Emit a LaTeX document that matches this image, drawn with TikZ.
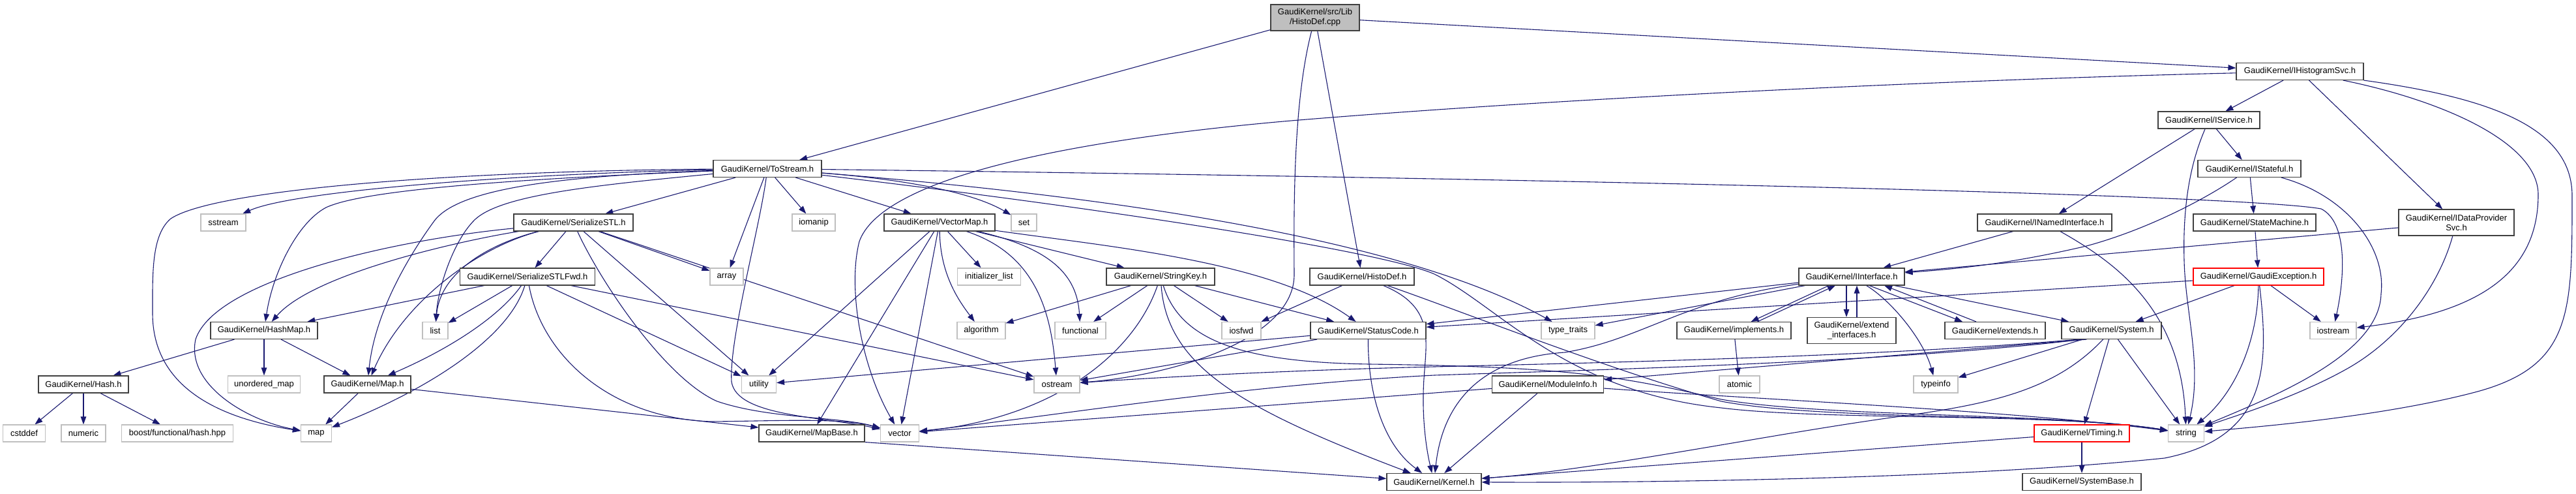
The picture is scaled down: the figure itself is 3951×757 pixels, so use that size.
\documentclass[tikz,border=0pt]{standalone}
\usepackage{fontspec}
\setmainfont{Liberation Sans}
\usetikzlibrary{arrows.meta}
\definecolor{edgeblue}{HTML}{191970}
\definecolor{sysgray}{HTML}{BFBFBF}
\definecolor{rootgray}{HTML}{BFBFBF}
\definecolor{borderdark}{HTML}{404040}
\pgfdeclarelayer{edges}
\pgfsetlayers{edges,main}
\newcommand\gnode[6]{\node[#1, minimum width=#5pt] (#2) at (#3,#4) {#6};}
\begin{document}
\begin{tikzpicture}[x=1pt,y=-1pt,
  nd/.style={draw=borderdark, line width=1.1pt, fill=white, inner sep=0pt,
     font=\fontsize{13}{15}\selectfont, minimum height=26pt},
  sys/.style={nd, draw=sysgray},
  trunc/.style={nd, draw=red},
  dep/.style={draw=edgeblue, line width=1.1pt, -{Triangle[length=12pt,width=8.5pt]}}]
\useasboundingbox (0,0) rectangle (3951,757);
% ---------------- nodes ----------------
\gnode{nd,fill=rootgray,minimum height=40pt,align=center}{root}{2017}{27}{136}{GaudiKernel/src/Lib\\/HistoDef.cpp}
\gnode{nd}{ts}{1177}{258.5}{166}{GaudiKernel/ToStream.h}
\gnode{sys}{sstream}{342.5}{341}{69}{sstream}
\gnode{nd}{ss}{879.5}{341}{183}{GaudiKernel/SerializeSTL.h}
\gnode{sys}{iomanip}{1248}{341}{66}{iomanip}
\gnode{nd}{vm}{1441}{341}{170}{GaudiKernel/VectorMap.h}
\gnode{sys}{set}{1570.5}{341}{39}{set}
\gnode{nd}{ni}{3136}{341}{206}{GaudiKernel/INamedInterface.h}
\gnode{nd}{ih}{3527.5}{109.5}{195}{GaudiKernel/IHistogramSvc.h}
\gnode{nd}{is}{3388}{184}{156}{GaudiKernel/IService.h}
\gnode{nd}{ist}{3450}{258.5}{158}{GaudiKernel/IStateful.h}
\gnode{nd}{sm}{3458}{341}{188}{GaudiKernel/StateMachine.h}
\gnode{nd,minimum height=40pt,align=center}{dp}{3767.5}{341}{177}{GaudiKernel/IDataProvider\\Svc.h}
\gnode{nd}{hm}{405}{506.5}{164}{GaudiKernel/HashMap.h}
\gnode{nd}{hash}{128}{589}{138}{GaudiKernel/Hash.h}
\gnode{sys}{um}{405}{589}{111}{unordered\_map}
\gnode{nd}{mp}{563.5}{589}{133}{GaudiKernel/Map.h}
\gnode{sys}{cstddef}{37}{664}{65}{cstddef}
\gnode{sys}{numeric}{128}{664}{68}{numeric}
\gnode{sys}{boost}{272}{664}{171}{boost/functional/hash.hpp}
\gnode{sys}{map}{485}{664}{47}{map}
\gnode{sys}{list}{667.5}{506.5}{39}{list}
\gnode{nd}{sf}{809}{424}{207}{GaudiKernel/SerializeSTLFwd.h}
\gnode{sys}{array}{1114.5}{424}{51}{array}
\gnode{sys}{utility}{1164}{589}{53}{utility}
\gnode{nd}{mb}{1245}{664}{162}{GaudiKernel/MapBase.h}
\gnode{sys}{il}{1517}{424}{97}{initializer\_list}
\gnode{nd}{sk}{1780}{424}{166}{GaudiKernel/StringKey.h}
\gnode{sys}{algorithm}{1505}{506.5}{74}{algorithm}
\gnode{sys}{functional}{1657}{506.5}{78}{functional}
\gnode{sys}{iosfwd}{1904}{506.5}{60}{iosfwd}
\gnode{sys}{ostream}{1621}{589}{70}{ostream}
\gnode{sys}{vector}{1380}{664}{59}{vector}
\gnode{nd}{hd}{2089}{424}{160}{GaudiKernel/HistoDef.h}
\gnode{nd}{sc}{2098.5}{506.5}{177}{GaudiKernel/StatusCode.h}
\gnode{sys}{tt}{2405}{506.5}{82}{type\_traits}
\gnode{nd}{mi}{2374}{589}{171}{GaudiKernel/ModuleInfo.h}
\gnode{nd}{kn}{2199.5}{738.5}{145}{GaudiKernel/Kernel.h}
\gnode{nd}{ii}{2840}{424}{162}{GaudiKernel/IInterface.h}
\gnode{nd}{im}{2659.5}{506.5}{175}{GaudiKernel/implements.h}
\gnode{nd,minimum height=40pt,align=center}{ei}{2840}{506.5}{136}{GaudiKernel/extend\\\_interfaces.h}
\gnode{nd}{ex}{3060}{506.5}{154}{GaudiKernel/extends.h}
\gnode{nd}{sy}{3238.5}{506.5}{153}{GaudiKernel/System.h}
\gnode{sys}{atomic}{2668}{589}{62}{atomic}
\gnode{sys}{typeinfo}{2969}{589}{68}{typeinfo}
\gnode{trunc}{ti}{3193}{664}{146}{GaudiKernel/Timing.h}
\gnode{nd}{sb}{3193}{738.5}{182}{GaudiKernel/SystemBase.h}
\gnode{trunc}{ge}{3464}{424}{200}{GaudiKernel/GaudiException.h}
\gnode{sys}{iostream}{3578.5}{506.5}{71}{iostream}
\gnode{sys}{string}{3353}{664}{55}{string}
% ---------------- edges ----------------
\begin{pgfonlayer}{edges}
% root
\draw[dep] (root) -- (ts);
\draw[dep] (root) -- (ih);
\draw[dep] (root) -- (hd);
\draw[dep] (root) .. controls (1985,150) and (1984,300) .. (1985,420) .. controls (1986,520) and (1800,575) .. (ostream);
% ToStream
\draw[dep] (ts) .. controls (800,266) and (450,292) .. (sstream);
\draw[dep] (ts) .. controls (700,262) and (330,290) .. (262,335) .. controls (232,360) and (234,420) .. (234,480) .. controls (234,590) and (330,640) .. (map);
\draw[dep] (ts) .. controls (800,274) and (560,290) .. (500,318) .. controls (455,342) and (418,420) .. (hm);
\draw[dep] (ts) .. controls (850,270) and (700,290) .. (665,340) .. controls (625,395) and (575,480) .. (mp);
\draw[dep] (ts) .. controls (900,285) and (760,300) .. (725,340) .. controls (695,372) and (672,440) .. (list);
\draw[dep] (ts) -- (ss);
\draw[dep] (ts) .. controls (1165,350) and (1118,520) .. (1122,585) .. controls (1130,638) and (1260,638) .. (vector);
\draw[dep] (ts) -- (iomanip);
\draw[dep] (ts) -- (array);
\draw[dep] (ts) -- (vm);
\draw[dep] (ts) .. controls (1350,272) and (1480,288) .. (set);
\draw[dep] (ts) .. controls (1700,300) and (2150,365) .. (tt);
\draw[dep] (ts) .. controls (1700,320) and (2120,385) .. (2200,420) .. controls (2300,470) and (2400,600) .. (2640,625) .. controls (2800,645) and (3150,632) .. (string);
\draw[dep] (ts) .. controls (2500,275) and (3450,300) .. (3560,320) .. controls (3600,340) and (3597,420) .. (iostream);
% SerializeSTL
\draw[dep] (ss) -- (sf);
\draw[dep] (ss) -- (array);
\draw[dep] (ss) -- (utility);
\draw[dep] (ss) -- (ostream);
\draw[dep] (ss) .. controls (745,375) and (675,420) .. (list);
\draw[dep] (ss) .. controls (700,370) and (480,420) .. (hm);
\draw[dep] (ss) .. controls (600,368) and (330,430) .. (300,520) .. controls (285,590) and (380,645) .. (map);
\draw[dep] (ss) .. controls (735,378) and (620,460) .. (mp);
\draw[dep] (ss) .. controls (920,430) and (1020,580) .. (1100,615) .. controls (1180,642) and (1285,638) .. (vector);
% SerializeSTLFwd
\draw[dep] (sf) -- (hm);
\draw[dep] (sf) -- (list);
\draw[dep] (sf) .. controls (770,480) and (700,530) .. (mp);
\draw[dep] (sf) .. controls (780,520) and (650,600) .. (map);
\draw[dep] (sf) .. controls (830,540) and (930,640) .. (1090,646) .. controls (1200,645) and (1290,640) .. (vector);
\draw[dep] (sf) -- (utility);
\draw[dep] (sf) -- (ostream);
% HashMap, Hash, Map
\draw[dep] (hm) -- (hash);
\draw[dep] (hm) -- (um);
\draw[dep] (hm) -- (mp);
\draw[dep] (hash) -- (cstddef);
\draw[dep] (hash) -- (numeric);
\draw[dep] (hash) -- (boost);
\draw[dep] (mp) -- (map);
\draw[dep] (mp) -- (mb);
% VectorMap
\draw[dep] (vm) -- (utility);
\draw[dep] (vm) -- (mb);
\draw[dep] (vm) -- (vector);
\draw[dep] (vm) .. controls (1442,420) and (1470,460) .. (algorithm);
\draw[dep] (vm) -- (il);
\draw[dep] (vm) .. controls (1590,390) and (1612,480) .. (ostream);
\draw[dep] (vm) .. controls (1610,380) and (1652,420) .. (functional);
\draw[dep] (vm) -- (sk);
\draw[dep] (vm) .. controls (1700,378) and (1950,400) .. (sc);
% StringKey
\draw[dep] (sk) -- (algorithm);
\draw[dep] (sk) -- (functional);
\draw[dep] (sk) .. controls (1740,540) and (1620,640) .. (vector);
\draw[dep] (sk) .. controls (1790,560) and (1900,625) .. (kn);
\draw[dep] (sk) .. controls (1810,520) and (1900,555) .. (2100,558) .. controls (2400,562) and (2480,575) .. (2640,612) .. controls (2800,640) and (3150,632) .. (string);
\draw[dep] (sk) -- (iosfwd);
\draw[dep] (sk) -- (sc);
% HistoDef
\draw[dep] (hd) -- (iosfwd);
\draw[dep] (hd) .. controls (2200,470) and (2188,520) .. (2184,580) .. controls (2180,640) and (2188,690) .. (kn);
\draw[dep] (hd) .. controls (2250,480) and (2450,560) .. (2640,615) .. controls (2800,645) and (3150,632) .. (string);
% StatusCode
\draw[dep] (sc) -- (utility);
\draw[dep] (sc) -- (ostream);
\draw[dep] (sc) .. controls (2098,600) and (2120,680) .. (kn);
% ModuleInfo
\draw[dep] (mi) -- (kn);
\draw[dep] (mi) -- (vector);
\draw[dep] (mi) .. controls (2700,612) and (3100,630) .. (string);
% MapBase
\draw[dep] (mb.south east) -- (kn);
% IHistogramSvc
\draw[dep] (ih) -- (is);
\draw[dep] (ih) -- (dp);
\draw[dep] (ih) .. controls (3750,155) and (3895,220) .. (3893,300) .. controls (3892,420) and (3800,480) .. (iostream);
\draw[dep] (ih) .. controls (3820,150) and (3945,195) .. (3945,300) .. controls (3945,480) and (3945,560) .. (3800,600) .. controls (3650,640) and (3450,655) .. (string);
\draw[dep] (ih) .. controls (3000,122) and (2400,150) .. (1980,185) .. controls (1600,218) and (1350,280) .. (1318,370) .. controls (1300,440) and (1320,560) .. (vector);
% IService
\draw[dep] (is) -- (ni);
\draw[dep] (is) -- (ist);
\draw[dep] (is) .. controls (3355,260) and (3348,330) .. (3350,400) .. controls (3352,480) and (3378,560) .. (string);
% IStateful
\draw[dep] (ist) .. controls (3390,300) and (3300,350) .. (3200,377) .. controls (3080,405) and (3000,412) .. (ii);
\draw[dep] (ist) -- (sm);
\draw[dep] (ist) .. controls (3600,300) and (3660,380) .. (3652,450) .. controls (3650,545) and (3480,610) .. (string);
% StateMachine, INamedInterface, IDataProviderSvc
\draw[dep] (sm) -- (ge);
\draw[dep] (ni) -- (ii);
\draw[dep] (ni) .. controls (3240,400) and (3345,470) .. (string);
\draw[dep] (dp) -- (ii);
\draw[dep] (dp) .. controls (3740,440) and (3680,520) .. (3600,565) .. controls (3520,610) and (3420,640) .. (string);
% GaudiException
\draw[dep] (ge) -- (sc);
\draw[dep] (ge) -- (sy);
\draw[dep] (ge) .. controls (3463,520) and (3430,600) .. (string);
\draw[dep] (ge) .. controls (3480,560) and (3480,670) .. (3320,702) .. controls (3000,735) and (2500,740) .. (kn);
\draw[dep] (ge) -- (iostream);
% IInterface
\draw[dep] ([xshift=-35pt]ii.south) -- ([xshift=26pt]im.north);
\draw[dep] ([xshift=36pt]im.north) -- ([xshift=-25pt]ii.south);
\draw[dep] ([xshift=-8pt]ii.south) -- ([xshift=-8pt]ei.north);
\draw[dep] ([xshift=8pt]ei.north) -- ([xshift=8pt]ii.south);
\draw[dep] ([xshift=27pt]ii.south) -- ([xshift=-50pt]ex.north);
\draw[dep] ([xshift=-29pt]ex.north) -- ([xshift=50pt]ii.south);
\draw[dep] (ii) .. controls (2900,460) and (2950,520) .. (typeinfo);
\draw[dep] (ii) -- (sy);
\draw[dep] (ii) -- (tt);
\draw[dep] (ii) -- (sc);
\draw[dep] (ii) .. controls (2580,460) and (2520,520) .. (2400,540) .. controls (2250,550) and (2210,640) .. (kn);
% implements
\draw[dep] (im) -- (atomic);
% System
\draw[dep] ([xshift=-38pt]sy.south) -- (mi);
\draw[dep] ([xshift=-50pt]sy.south) .. controls (2900,545) and (2500,555) .. (2200,562) .. controls (1950,568) and (1750,580) .. (ostream);
\draw[dep] ([xshift=-44pt]sy.south) .. controls (2900,555) and (2500,565) .. (2200,575) .. controls (1900,590) and (1600,640) .. (vector);
\draw[dep] (sy) -- (typeinfo);
\draw[dep] (sy) -- (ti);
\draw[dep] (sy) -- (string);
\draw[dep] (sy) .. controls (3150,600) and (3050,620) .. (2900,640) .. controls (2700,668) and (2450,720) .. (kn);
% Timing
\draw[dep] (ti) -- (kn);
\draw[dep] (ti) -- (sb);
\end{pgfonlayer}
\end{tikzpicture}
\end{document}
